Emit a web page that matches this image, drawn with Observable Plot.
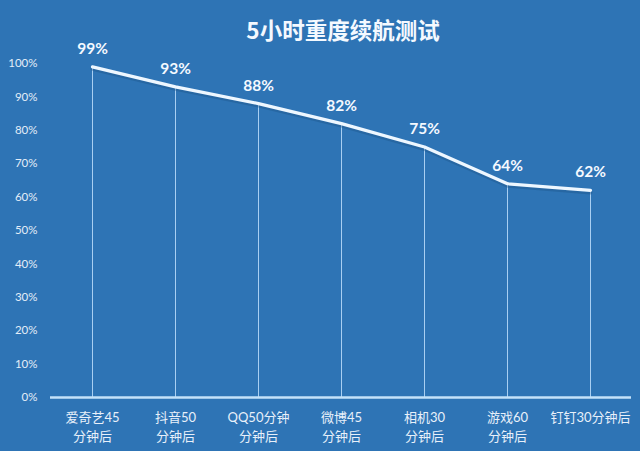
<!DOCTYPE html>
<html>
<head>
<meta charset="utf-8">
<script src="https://cdn.jsdelivr.net/npm/d3@7"></script>
<script src="https://cdn.jsdelivr.net/npm/@observablehq/plot@0.6"></script>
<style>
  html, body { margin: 0; padding: 0; background: #2e74b5; }
  #wrap { width: 640px; height: 451px; background: #2e74b5; overflow: hidden; }
  #title { height: 36px; box-sizing: border-box; padding-top: 16px; padding-left: 46px; text-align: center;
    font-family: "Noto Sans CJK SC", sans-serif; font-weight: 700; font-size: 22.5px; line-height: 26px; color: #f4f9ff; }
  svg { overflow: visible; display: block; }
</style>
</head>
<body>
<div id="wrap">
  <div id="title"></div>
  <div id="chart"></div>
</div>
<script>
const title = "5小时重度续航测试";
const categories = ["爱奇艺45\n分钟后", "抖音50\n分钟后", "QQ50分钟\n分钟后", "微博45\n分钟后", "相机30\n分钟后", "游戏60\n分钟后", "钉钉30分钟后"];
const values = [99, 93, 88, 82, 75, 64, 62];
const yTicks = [0, 10, 20, 30, 40, 50, 60, 70, 80, 90, 100];

document.getElementById("title").textContent = title;
const data = categories.map((c, i) => ({cat: c, v: values[i]}));

const chart = Plot.plot({
  width: 640,
  height: 415,
  marginLeft: 50,
  marginRight: 9,
  marginTop: 27,
  marginBottom: 54,
  style: {background: "transparent", fontFamily: "Lato, 'Noto Sans CJK SC', sans-serif", color: "#e3edf8"},
  x: {type: "point", domain: categories, padding: 0.5},
  y: {domain: [0, 100]},
  marks: [
    Plot.axisY({ticks: yTicks, tickSize: 0, tickPadding: 13, tickFormat: d => d + "%", fontSize: 11.5, label: null, fill: "#e3edf8"}),
    Plot.axisX({tickSize: 0, tickPadding: 12, fontSize: 13, lineHeight: 1.4, label: null, fill: "#e8f0fa"}),
    Plot.ruleX(data, {x: "cat", y1: 0, y2: "v", stroke: "#a9cff2", strokeWidth: 1}),
    Plot.ruleY([0], {stroke: "#c4e2fa", strokeWidth: 2.5}),
    Plot.line(data, {x: "cat", y: "v", stroke: "#1b4f80", strokeOpacity: 0.35, strokeWidth: 4, dy: 2}),
    Plot.line(data, {x: "cat", y: "v", stroke: "#eef7ff", strokeWidth: 3.2}),
    Plot.text(data, {x: "cat", y: "v", text: d => d.v + "%", dy: -18, fill: "#f4f9ff", fontSize: 15.5, fontWeight: 700})
  ]
});
document.getElementById("chart").appendChild(chart);
</script>
</body>
</html>
